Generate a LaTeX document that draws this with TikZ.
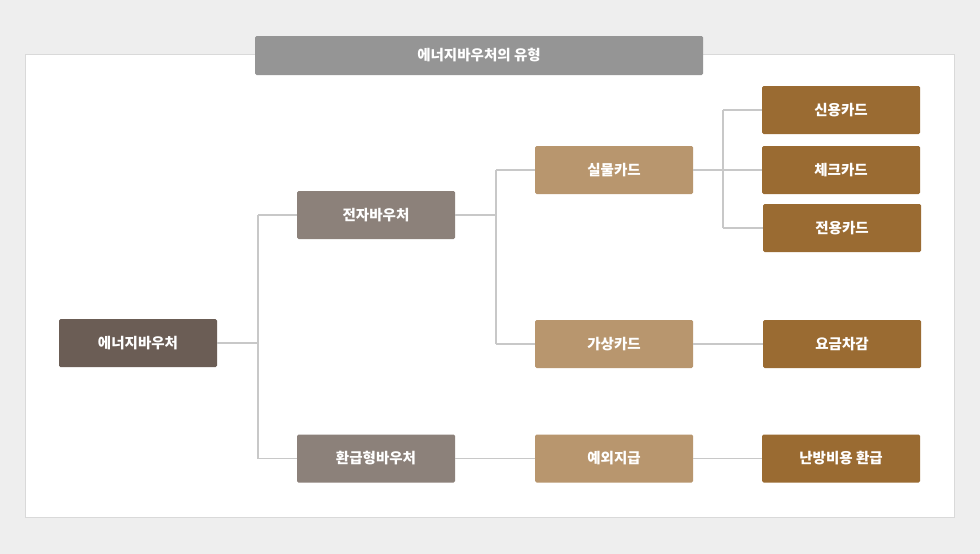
\documentclass[tikz,border=0pt]{standalone}
\usepackage{fontspec}
\setmainfont{Noto Sans CJK KR}
\definecolor{bg}{HTML}{EEEEEE}
\definecolor{ln}{HTML}{C8C8C8}
\definecolor{c0}{HTML}{6B5D55}
\definecolor{c1}{HTML}{8C817A}
\definecolor{c2}{HTML}{B8966E}
\definecolor{c3}{HTML}{9A6B32}
\definecolor{tt}{HTML}{959595}
\begin{document}
\begin{tikzpicture}[x=1pt,y=-1pt,
  box/.style={minimum width=158pt,minimum height=48pt,rounded corners=1.5pt,text=white,font=\fontsize{14.5}{16}\selectfont\bfseries,inner sep=0pt},
  con/.style={draw=ln,line width=1.2pt}]
\fill[bg] (0,0) rectangle (980,554);
\useasboundingbox (0,0) rectangle (980,554);
\draw[fill=white,draw=ln!70] (25,54) rectangle (954,517);
\node[box,fill=tt,minimum width=448pt,minimum height=39pt] (t) at (479,55.5) {에너지바우처의 유형};
\node[box,fill=c0] (a) at (138,343) {에너지바우처};
\node[box,fill=c1] (b1) at (376,215) {전자바우처};
\node[box,fill=c1] (b2) at (376,458.5) {환급형바우처};
\node[box,fill=c2] (c1) at (614,170) {실물카드};
\node[box,fill=c2] (c2) at (614,344) {가상카드};
\node[box,fill=c2] (c3) at (614,458.5) {예외지급};
\node[box,fill=c3] (d1) at (841,110) {신용카드};
\node[box,fill=c3] (d2) at (841,170) {체크카드};
\node[box,fill=c3] (d3) at (842,228) {전용카드};
\node[box,fill=c3] (d4) at (842,344) {요금차감};
\node[box,fill=c3] (d5) at (841,458.5) {난방비용 환급};
\draw[con] (a.east) -- (258,343);
\draw[con] (258,215) -- (258,458.5);
\draw[con] (258,215) -- (b1.west);
\draw[con] (258,458.5) -- (b2.west);
\draw[con] (b1.east) -- (496,215);
\draw[con] (496,170) -- (496,344);
\draw[con] (496,170) -- (c1.west);
\draw[con] (496,344) -- (c2.west);
\draw[con] (b2.east) -- (c3.west);
\draw[con] (c1.east) -- (d2.west);
\draw[con] (723,110) -- (723,228);
\draw[con] (723,110) -- (d1.west);
\draw[con] (723,228) -- (d3.west);
\draw[con] (c2.east) -- (d4.west);
\draw[con] (c3.east) -- (d5.west);
\end{tikzpicture}
\end{document}
